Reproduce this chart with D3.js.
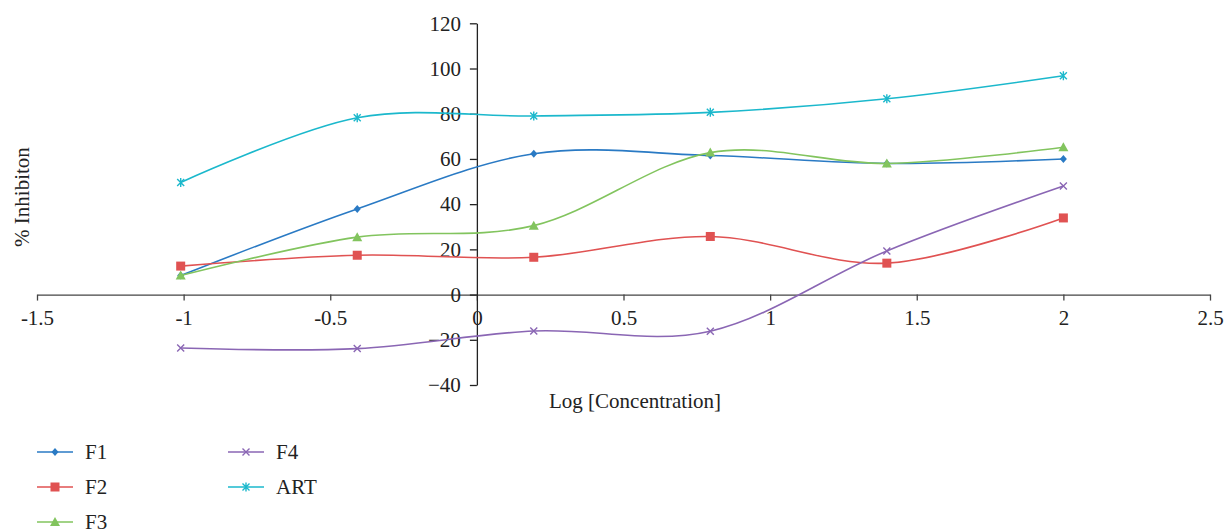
<!DOCTYPE html>
<html>
<head>
<meta charset="utf-8">
<script src="https://cdn.jsdelivr.net/npm/d3@7"></script>
<style>
  body { margin: 0; background: #fff; }
  text { font-family: "Liberation Serif", "DejaVu Serif", serif; fill: #222; }
</style>
</head>
<body>
<div id="chart"></div>
<script>
// concentration (log) for each point
var logConc = [-1.01, -0.408, 0.194, 0.796, 1.398, 2];

// % inhibition values
var f1 = [8.4, 37.9, 62.3, 61.5, 58.0, 60.0];
var f2 = [12.6, 17.4, 16.5, 25.7, 13.9, 33.9];
var f3 = [8.4, 25.4, 30.5, 62.8, 58.0, 65.2];
var f4 = [-23.6, -23.9, -16.1, -16.2, 19.3, 48.0];
var art = [49.6, 78.2, 79.0, 80.6, 86.6, 96.8];

var seriesNames = ["F1", "F2", "F3", "F4", "ART"];
var seriesValues = [f1, f2, f3, f4, art];
var seriesColors = ["#2a7ac4", "#e05252", "#82c45e", "#8a66b4", "#1bb8cc"];
var seriesMarkers = ["diamond", "square", "triangle", "x", "star"];

var xTicks = [-1.5, -1, -0.5, 0, 0.5, 1, 1.5, 2, 2.5];
var yTicks = [-40, -20, 0, 20, 40, 60, 80, 100, 120];

var svgWidth = 1224;
var svgHeight = 530;
var fontSize = 21;

var svg = d3.select("#chart")
  .append("svg")
  .attr("width", svgWidth)
  .attr("height", svgHeight);

var xScale = d3.scaleLinear().domain([-1.5, 2.5]).range([37, 1210]);
var yScale = d3.scaleLinear().domain([-40, 120]).range([385, 23.3]);

// x axis sits on y = 0
var xAxis = svg.append("g")
  .attr("transform", `translate(0, ${yScale(0)})`)
  .call(d3.axisBottom(xScale).tickValues(xTicks).tickSize(6).tickSizeOuter(0)
    .tickFormat(d => d));
xAxis.select(".domain").attr("stroke", "#444").attr("stroke-width", 1.3);
xAxis.selectAll(".tick line").attr("stroke", "#444").attr("stroke-width", 1.3);
xAxis.selectAll(".tick text").attr("font-size", fontSize).attr("y", 12).attr("dy", "0.9em").attr("fill", "#222");

// y axis sits on x = 0
var yAxis = svg.append("g")
  .attr("transform", `translate(${xScale(0)}, 0)`)
  .call(d3.axisLeft(yScale).tickValues(yTicks).tickSize(7).tickSizeOuter(0));
yAxis.select(".domain").attr("stroke", "#222").attr("stroke-width", 1.3);
yAxis.selectAll(".tick line").attr("stroke", "#222").attr("stroke-width", 1.3);
yAxis.selectAll(".tick text").attr("font-size", fontSize).attr("x", -16).attr("fill", "#222");

// axis titles
svg.append("text")
  .attr("x", 635)
  .attr("y", 408)
  .attr("text-anchor", "middle")
  .attr("font-size", fontSize)
  .text("Log [Concentration]");

svg.append("text")
  .attr("transform", "translate(29, 197) rotate(-90)")
  .attr("text-anchor", "middle")
  .attr("font-size", fontSize)
  .text("% Inhibiton");

var line = d3.line()
  .x(d => xScale(d[0]))
  .y(d => yScale(d[1]))
  .curve(d3.curveCardinal.tension(0));

function drawMarker(g, type, color) {
  if (type === "diamond") {
    g.append("path").attr("d", "M0,-4L3.5,0L0,4L-3.5,0Z").attr("fill", color);
  } else if (type === "square") {
    g.append("rect").attr("x", -4.5).attr("y", -4.5).attr("width", 9).attr("height", 9).attr("fill", color);
  } else if (type === "triangle") {
    g.append("path").attr("d", "M0,-5L5,4L-5,4Z").attr("fill", color);
  } else if (type === "x") {
    g.append("path").attr("d", "M-3.5,-3.5L3.5,3.5M-3.5,3.5L3.5,-3.5")
      .attr("stroke", color).attr("stroke-width", 1.4).attr("fill", "none");
  } else {
    g.append("path").attr("d", "M-3.5,-3.5L3.5,3.5M-3.5,3.5L3.5,-3.5M0,-4.5L0,4.5")
      .attr("stroke", color).attr("stroke-width", 1.4).attr("fill", "none");
  }
}

seriesValues.forEach(function(vals, i) {
  var pts = vals.map((v, j) => [logConc[j], v]);
  svg.append("path")
    .datum(pts)
    .attr("d", line)
    .attr("fill", "none")
    .attr("stroke", seriesColors[i])
    .attr("stroke-width", 1.6);

  pts.forEach(function(p) {
    var g = svg.append("g")
      .attr("transform", `translate(${xScale(p[0])}, ${yScale(p[1])})`);
    drawMarker(g, seriesMarkers[i], seriesColors[i]);
  });
});

// legend, two columns
var legendPos = [[37, 452], [37, 487], [37, 522], [228, 452], [228, 487]];
seriesNames.forEach(function(name, i) {
  var lg = svg.append("g")
    .attr("transform", `translate(${legendPos[i][0]}, ${legendPos[i][1]})`);
  lg.append("line")
    .attr("x1", 0).attr("x2", 36)
    .attr("stroke", seriesColors[i])
    .attr("stroke-width", 1.6);
  var m = lg.append("g").attr("transform", "translate(18, 0)");
  drawMarker(m, seriesMarkers[i], seriesColors[i]);
  lg.append("text")
    .attr("x", 48)
    .attr("y", 7)
    .attr("font-size", fontSize)
    .text(name);
});
</script>
</body>
</html>
